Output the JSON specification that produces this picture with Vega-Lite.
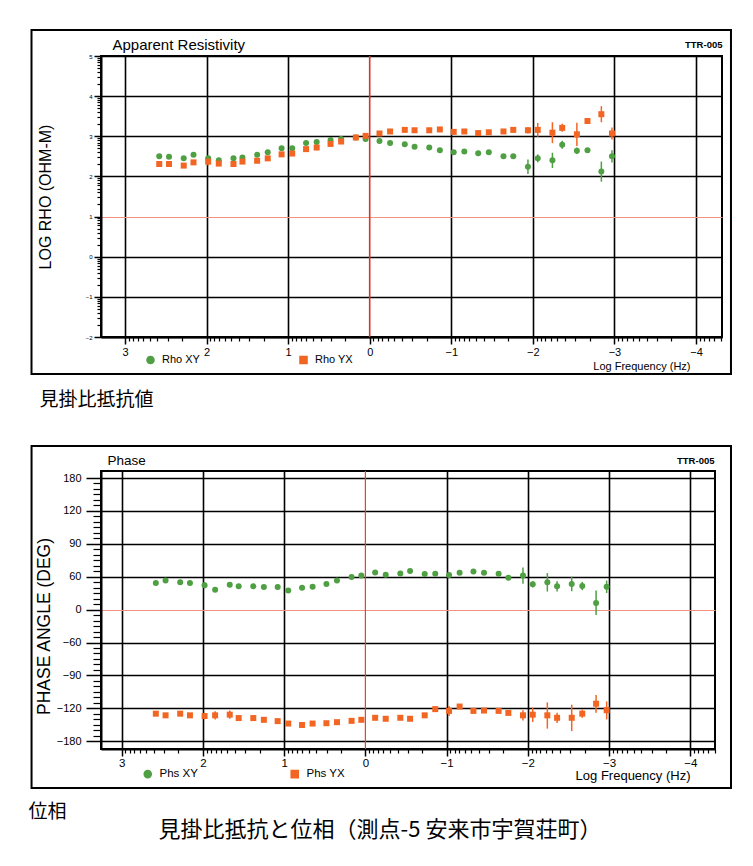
{
  "$schema": "https://vega.github.io/schema/vega-lite/v6.json",
  "background": "white",
  "padding": {"left": 27, "top": 27, "right": 5, "bottom": 5},
  "spacing": 34,
  "config": {
    "font": "Liberation Sans",
    "view": {"stroke": "black", "strokeWidth": 2},
    "axis": {"domainColor": "black", "tickColor": "black", "labelColor": "black", "titleColor": "black", "gridColor": "black", "titleFontWeight": "normal", "labelFont": "Liberation Sans", "titleFont": "Liberation Sans"},
    "legend": {"labelFont": "Liberation Sans", "labelColor": "black"}
  },
  "title": {"text": "見掛比抵抗と位相（測点-5 安来市宇賀荘町）", "orient": "bottom", "anchor": "middle", "font": "Noto Sans CJK JP", "fontSize": 22, "fontWeight": "normal", "color": "black", "offset": -2},
  "resolve": {"scale": {"color": "independent", "shape": "independent"}, "legend": {"color": "independent", "shape": "independent"}},
  "datasets": {
    "rho": [
      {"f": 2.58, "s": "Rho XY", "v": 2.50}, {"f": 2.46, "s": "Rho XY", "v": 2.49}, {"f": 2.28, "s": "Rho XY", "v": 2.45}, {"f": 2.16, "s": "Rho XY", "v": 2.54},
      {"f": 1.98, "s": "Rho XY", "v": 2.45}, {"f": 1.85, "s": "Rho XY", "v": 2.40}, {"f": 1.67, "s": "Rho XY", "v": 2.45}, {"f": 1.56, "s": "Rho XY", "v": 2.47},
      {"f": 1.38, "s": "Rho XY", "v": 2.54}, {"f": 1.25, "s": "Rho XY", "v": 2.60}, {"f": 1.08, "s": "Rho XY", "v": 2.70}, {"f": 0.95, "s": "Rho XY", "v": 2.70},
      {"f": 0.78, "s": "Rho XY", "v": 2.83}, {"f": 0.65, "s": "Rho XY", "v": 2.86}, {"f": 0.48, "s": "Rho XY", "v": 2.91}, {"f": 0.35, "s": "Rho XY", "v": 2.93},
      {"f": 0.17, "s": "Rho XY", "v": 2.97}, {"f": 0.05, "s": "Rho XY", "v": 2.93}, {"f": -0.12, "s": "Rho XY", "v": 2.88}, {"f": -0.25, "s": "Rho XY", "v": 2.83},
      {"f": -0.43, "s": "Rho XY", "v": 2.80}, {"f": -0.55, "s": "Rho XY", "v": 2.74}, {"f": -0.73, "s": "Rho XY", "v": 2.72}, {"f": -0.86, "s": "Rho XY", "v": 2.65},
      {"f": -1.03, "s": "Rho XY", "v": 2.60}, {"f": -1.16, "s": "Rho XY", "v": 2.62}, {"f": -1.33, "s": "Rho XY", "v": 2.58}, {"f": -1.46, "s": "Rho XY", "v": 2.60},
      {"f": -1.64, "s": "Rho XY", "v": 2.50}, {"f": -1.76, "s": "Rho XY", "v": 2.50},
      {"f": -1.94, "s": "Rho XY", "v": 2.24, "lo": 2.06, "hi": 2.42}, {"f": -2.06, "s": "Rho XY", "v": 2.45, "lo": 2.35, "hi": 2.55},
      {"f": -2.24, "s": "Rho XY", "v": 2.40, "lo": 2.21, "hi": 2.59}, {"f": -2.36, "s": "Rho XY", "v": 2.79, "lo": 2.69, "hi": 2.89},
      {"f": -2.54, "s": "Rho XY", "v": 2.64, "lo": 2.56, "hi": 2.72}, {"f": -2.67, "s": "Rho XY", "v": 2.65},
      {"f": -2.84, "s": "Rho XY", "v": 2.12, "lo": 1.87, "hi": 2.37}, {"f": -2.97, "s": "Rho XY", "v": 2.50, "lo": 2.35, "hi": 2.65},
      {"f": 2.58, "s": "Rho YX", "v": 2.31}, {"f": 2.46, "s": "Rho YX", "v": 2.31}, {"f": 2.28, "s": "Rho YX", "v": 2.27}, {"f": 2.16, "s": "Rho YX", "v": 2.35},
      {"f": 1.98, "s": "Rho YX", "v": 2.37, "lo": 2.27, "hi": 2.47}, {"f": 1.85, "s": "Rho YX", "v": 2.32}, {"f": 1.67, "s": "Rho YX", "v": 2.31}, {"f": 1.56, "s": "Rho YX", "v": 2.37},
      {"f": 1.38, "s": "Rho YX", "v": 2.39}, {"f": 1.25, "s": "Rho YX", "v": 2.45}, {"f": 1.08, "s": "Rho YX", "v": 2.55}, {"f": 0.95, "s": "Rho YX", "v": 2.57},
      {"f": 0.78, "s": "Rho YX", "v": 2.68}, {"f": 0.65, "s": "Rho YX", "v": 2.72}, {"f": 0.48, "s": "Rho YX", "v": 2.81}, {"f": 0.35, "s": "Rho YX", "v": 2.87},
      {"f": 0.17, "s": "Rho YX", "v": 2.97}, {"f": 0.05, "s": "Rho YX", "v": 3.01}, {"f": -0.12, "s": "Rho YX", "v": 3.07}, {"f": -0.25, "s": "Rho YX", "v": 3.12},
      {"f": -0.43, "s": "Rho YX", "v": 3.16}, {"f": -0.55, "s": "Rho YX", "v": 3.15}, {"f": -0.73, "s": "Rho YX", "v": 3.15}, {"f": -0.86, "s": "Rho YX", "v": 3.17},
      {"f": -1.03, "s": "Rho YX", "v": 3.11}, {"f": -1.16, "s": "Rho YX", "v": 3.12}, {"f": -1.33, "s": "Rho YX", "v": 3.08}, {"f": -1.46, "s": "Rho YX", "v": 3.10},
      {"f": -1.64, "s": "Rho YX", "v": 3.12, "lo": 3.07, "hi": 3.17}, {"f": -1.76, "s": "Rho YX", "v": 3.16},
      {"f": -1.94, "s": "Rho YX", "v": 3.15, "lo": 3.07, "hi": 3.23}, {"f": -2.06, "s": "Rho YX", "v": 3.16, "lo": 2.99, "hi": 3.33},
      {"f": -2.24, "s": "Rho YX", "v": 3.09, "lo": 2.83, "hi": 3.35}, {"f": -2.36, "s": "Rho YX", "v": 3.21, "lo": 3.11, "hi": 3.31},
      {"f": -2.54, "s": "Rho YX", "v": 3.05, "lo": 2.76, "hi": 3.34}, {"f": -2.67, "s": "Rho YX", "v": 3.38},
      {"f": -2.84, "s": "Rho YX", "v": 3.55, "lo": 3.35, "hi": 3.75}, {"f": -2.97, "s": "Rho YX", "v": 3.07, "lo": 2.92, "hi": 3.22}
    ],
    "phs": [
      {"f": 2.58, "s": "Phs XY", "v": 48.6}, {"f": 2.46, "s": "Phs XY", "v": 53.0}, {"f": 2.28, "s": "Phs XY", "v": 50.0}, {"f": 2.16, "s": "Phs XY", "v": 48.6},
      {"f": 1.98, "s": "Phs XY", "v": 44.3, "lo": 38.6, "hi": 50.0}, {"f": 1.85, "s": "Phs XY", "v": 36.0}, {"f": 1.67, "s": "Phs XY", "v": 45.4}, {"f": 1.56, "s": "Phs XY", "v": 42.4},
      {"f": 1.38, "s": "Phs XY", "v": 42.4}, {"f": 1.25, "s": "Phs XY", "v": 41.1}, {"f": 1.08, "s": "Phs XY", "v": 41.1}, {"f": 0.95, "s": "Phs XY", "v": 34.8},
      {"f": 0.78, "s": "Phs XY", "v": 39.7}, {"f": 0.65, "s": "Phs XY", "v": 41.6}, {"f": 0.48, "s": "Phs XY", "v": 46.7}, {"f": 0.35, "s": "Phs XY", "v": 53.0},
      {"f": 0.17, "s": "Phs XY", "v": 59.4}, {"f": 0.05, "s": "Phs XY", "v": 61.2}, {"f": -0.12, "s": "Phs XY", "v": 63.9}, {"f": -0.25, "s": "Phs XY", "v": 61.8},
      {"f": -0.43, "s": "Phs XY", "v": 63.0}, {"f": -0.55, "s": "Phs XY", "v": 65.1}, {"f": -0.73, "s": "Phs XY", "v": 62.4}, {"f": -0.86, "s": "Phs XY", "v": 62.7},
      {"f": -1.03, "s": "Phs XY", "v": 61.5}, {"f": -1.16, "s": "Phs XY", "v": 63.6}, {"f": -1.33, "s": "Phs XY", "v": 64.8}, {"f": -1.46, "s": "Phs XY", "v": 63.6},
      {"f": -1.64, "s": "Phs XY", "v": 62.7}, {"f": -1.76, "s": "Phs XY", "v": 58.1},
      {"f": -1.94, "s": "Phs XY", "v": 61.2, "lo": 47.3, "hi": 68.4}, {"f": -2.06, "s": "Phs XY", "v": 46.2, "lo": 40.5, "hi": 51.9},
      {"f": -2.24, "s": "Phs XY", "v": 50.0, "lo": 32.9, "hi": 63.3}, {"f": -2.36, "s": "Phs XY", "v": 42.4, "lo": 32.9, "hi": 51.9},
      {"f": -2.54, "s": "Phs XY", "v": 46.7, "lo": 33.5, "hi": 60.0}, {"f": -2.67, "s": "Phs XY", "v": 43.0, "lo": 35.4, "hi": 50.5},
      {"f": -2.84, "s": "Phs XY", "v": 12.1, "lo": -10.0, "hi": 34.8}, {"f": -2.97, "s": "Phs XY", "v": 41.6, "lo": 30.3, "hi": 53.0},
      {"f": 2.58, "s": "Phs YX", "v": -129.8}, {"f": 2.46, "s": "Phs YX", "v": -132.8}, {"f": 2.28, "s": "Phs YX", "v": -129.8}, {"f": 2.16, "s": "Phs YX", "v": -132.8},
      {"f": 1.98, "s": "Phs YX", "v": -134.1, "lo": -139.7, "hi": -128.4}, {"f": 1.85, "s": "Phs YX", "v": -132.8, "lo": -140.3, "hi": -125.3},
      {"f": 1.67, "s": "Phs YX", "v": -131.6, "lo": -139.1, "hi": -124.1}, {"f": 1.56, "s": "Phs YX", "v": -137.8},
      {"f": 1.38, "s": "Phs YX", "v": -137.8}, {"f": 1.25, "s": "Phs YX", "v": -141.0}, {"f": 1.08, "s": "Phs YX", "v": -143.4}, {"f": 0.95, "s": "Phs YX", "v": -147.8},
      {"f": 0.78, "s": "Phs YX", "v": -150.4}, {"f": 0.65, "s": "Phs YX", "v": -147.8}, {"f": 0.48, "s": "Phs YX", "v": -147.2}, {"f": 0.35, "s": "Phs YX", "v": -145.3},
      {"f": 0.17, "s": "Phs YX", "v": -142.9}, {"f": 0.05, "s": "Phs YX", "v": -141.0}, {"f": -0.12, "s": "Phs YX", "v": -137.3}, {"f": -0.25, "s": "Phs YX", "v": -139.1},
      {"f": -0.43, "s": "Phs YX", "v": -137.3}, {"f": -0.55, "s": "Phs YX", "v": -139.1}, {"f": -0.73, "s": "Phs YX", "v": -132.8}, {"f": -0.86, "s": "Phs YX", "v": -121.5},
      {"f": -1.03, "s": "Phs YX", "v": -124.7, "lo": -134.1, "hi": -117.8}, {"f": -1.16, "s": "Phs YX", "v": -118.4}, {"f": -1.33, "s": "Phs YX", "v": -124.7}, {"f": -1.46, "s": "Phs YX", "v": -124.1},
      {"f": -1.64, "s": "Phs YX", "v": -124.7}, {"f": -1.76, "s": "Phs YX", "v": -128.4},
      {"f": -1.94, "s": "Phs YX", "v": -132.8, "lo": -142.1, "hi": -123.4}, {"f": -2.06, "s": "Phs YX", "v": -131.6, "lo": -144.8, "hi": -119.3},
      {"f": -2.24, "s": "Phs YX", "v": -132.8, "lo": -157.1, "hi": -114.6}, {"f": -2.36, "s": "Phs YX", "v": -137.3, "lo": -146.6, "hi": -127.9},
      {"f": -2.54, "s": "Phs YX", "v": -137.3, "lo": -161.6, "hi": -116.7}, {"f": -2.67, "s": "Phs YX", "v": -129.8, "lo": -137.3, "hi": -122.3},
      {"f": -2.84, "s": "Phs YX", "v": -115.8, "lo": -127.9, "hi": -107.9}, {"f": -2.97, "s": "Phs YX", "v": -123.4, "lo": -140.3, "hi": -113.7}
    ],
    "one": [{"k": 1}]
  },
  "vconcat": [
    {
      "width": 621,
      "height": 281,
      "resolve": {"axis": {"x": "independent", "y": "independent"}},
      "layer": [
        {
          "data": {"name": "one"},
          "mark": {"type": "rect", "fill": null, "filled": false, "stroke": "black", "strokeWidth": 2, "clip": false},
          "encoding": {
            "x": {"datum": 4.146, "type": "quantitative", "axis": {"orient": "top", "labels": false, "ticks": false, "domain": false, "grid": false, "title": "Apparent Resistivity", "titleFontSize": 15, "titleX": 11, "titleY": -12, "titleAlign": "left", "titleBaseline": "middle"}},
            "x2": {"datum": -4.429},
            "y": {"datum": 5.648, "type": "quantitative", "axis": null},
            "y2": {"datum": -2.922}
          }
        },
        {
          "data": {"name": "one"},
          "mark": {"type": "rule", "color": "#d8322a", "strokeWidth": 1.6},
          "encoding": {
            "x": {"datum": 0, "type": "quantitative", "axis": {"orient": "top", "labels": false, "ticks": false, "domain": false, "grid": false, "title": "TTR-005", "titleFontSize": 9.5, "titleFontWeight": "bold", "titleX": 621, "titleY": -12, "titleAlign": "right", "titleBaseline": "middle"}}
          }
        },
        {
          "data": {"name": "rho"},
          "transform": [{"filter": "isValid(datum.lo)"}],
          "mark": {"type": "rule", "strokeWidth": 1.5},
          "encoding": {
            "x": {"field": "f", "type": "quantitative", "axis": {"orient": "bottom", "values": [-4.301, -4.222, -4.155, -4.097, -4.046, -3.699, -3.523, -3.398, -3.301, -3.222, -3.155, -3.097, -3.046, -2.699, -2.523, -2.398, -2.301, -2.222, -2.155, -2.097, -2.046, -1.699, -1.523, -1.398, -1.301, -1.222, -1.155, -1.097, -1.046, -0.699, -0.523, -0.398, -0.301, -0.222, -0.155, -0.097, -0.046, 0.301, 0.477, 0.602, 0.699, 0.778, 0.845, 0.903, 0.954, 1.301, 1.477, 1.602, 1.699, 1.778, 1.845, 1.903, 1.954, 2.301, 2.477, 2.602, 2.699, 2.778, 2.845, 2.903, 2.954], "labels": false, "domain": false, "grid": false, "tickSize": 4, "tickWidth": 1.2, "title": "見掛比抵抗値", "titleFont": "Noto Sans CJK JP", "titleFontSize": 19, "titleX": -62, "titleY": 62, "titleAlign": "left", "titleBaseline": "middle"}},
            "y": {"field": "lo", "type": "quantitative", "axis": {"orient": "left", "values": [-1.699, -1.523, -1.398, -1.301, -1.222, -1.155, -1.097, -1.046, -0.699, -0.523, -0.398, -0.301, -0.222, -0.155, -0.097, -0.046, 0.301, 0.477, 0.602, 0.699, 0.778, 0.845, 0.903, 0.954, 1.301, 1.477, 1.602, 1.699, 1.778, 1.845, 1.903, 1.954, 2.301, 2.477, 2.602, 2.699, 2.778, 2.845, 2.903, 2.954, 3.301, 3.477, 3.602, 3.699, 3.778, 3.845, 3.903, 3.954, 4.301, 4.477, 4.602, 4.699, 4.778, 4.845, 4.903, 4.954], "labels": false, "domain": false, "grid": false, "tickSize": 4, "tickWidth": 1.2, "title": null}},
            "y2": {"field": "hi"},
            "color": {"field": "s", "type": "nominal"}
          }
        },
        {
          "data": {"name": "rho"},
          "mark": {"type": "point", "filled": true, "opacity": 1, "size": 36},
          "encoding": {
            "x": {"field": "f", "type": "quantitative", "scale": {"domain": [-4.319, 3.294], "reverse": true, "nice": false, "zero": false},
              "axis": {"orient": "bottom", "values": [-4, -3, -2, -1, 0, 1, 2, 3], "grid": true, "gridWidth": 1.6, "gridOpacity": {"condition": {"test": "datum.value === 0", "value": 0}, "value": 1}, "tickSize": 7, "tickWidth": 1.5, "labelFontSize": 11, "labelPadding": 2, "labelFlush": false, "domainWidth": 2, "title": "Log Frequency (Hz)", "titleFontSize": 11, "titleX": 589, "titleY": 29, "titleAlign": "right", "titleBaseline": "middle"}},
            "y": {"field": "v", "type": "quantitative", "scale": {"domain": [-2, 5], "nice": false, "zero": false},
              "axis": {"orient": "left", "values": [-2, -1, 0, 1, 2, 3, 4, 5], "grid": true, "gridWidth": {"condition": {"test": "datum.value === 1", "value": 1.2}, "value": 1.6}, "gridColor": {"condition": {"test": "datum.value === 1", "value": "#f3937f"}, "value": "black"}, "tickSize": 7, "tickWidth": 1.5, "labelFontSize": 6, "labelPadding": 2, "domainWidth": 2, "title": "LOG RHO (OHM-M)", "titleFontSize": 16, "titlePadding": 32}},
            "color": {"field": "s", "type": "nominal", "scale": {"domain": ["Rho XY", "Rho YX"], "range": ["#4f9f43", "#f26522"]},
              "legend": {"orient": "none", "legendX": 44, "legendY": 298, "direction": "horizontal", "columns": 2, "columnPadding": 96, "title": null, "labelFontSize": 11, "symbolSize": 50, "labelOffset": 6}},
            "shape": {"field": "s", "type": "nominal", "scale": {"domain": ["Rho XY", "Rho YX"], "range": ["circle", "square"]},
              "legend": {"orient": "none", "legendX": 44, "legendY": 298, "direction": "horizontal", "columns": 2, "columnPadding": 96, "title": null, "labelFontSize": 11, "symbolSize": 50, "labelOffset": 6}}
          }
        }
      ]
    },
    {
      "width": 614,
      "height": 278,
      "resolve": {"axis": {"x": "independent", "y": "independent"}},
      "layer": [
        {
          "data": {"name": "one"},
          "mark": {"type": "rect", "fill": null, "filled": false, "stroke": "black", "strokeWidth": 2, "clip": false},
          "encoding": {
            "x": {"datum": 4.11, "type": "quantitative", "axis": {"orient": "top", "labels": false, "ticks": false, "domain": false, "grid": false, "title": "Phase", "titleFontSize": 13.5, "titleX": 6, "titleY": -11, "titleAlign": "left", "titleBaseline": "middle"}},
            "x2": {"datum": -4.501},
            "y": {"datum": 239.4, "type": "quantitative", "axis": null},
            "y2": {"datum": -270}
          }
        },
        {
          "data": {"name": "one"},
          "mark": {"type": "rule", "color": "#e8402e", "strokeWidth": 1.2},
          "encoding": {
            "x": {"datum": 0, "type": "quantitative", "axis": {"orient": "top", "labels": false, "ticks": false, "domain": false, "grid": false, "title": "TTR-005", "titleFontSize": 9.5, "titleFontWeight": "bold", "titleX": 613, "titleY": -11, "titleAlign": "right", "titleBaseline": "middle"}}
          }
        },
        {
          "data": {"name": "phs"},
          "transform": [{"filter": "isValid(datum.lo)"}],
          "mark": {"type": "rule", "strokeWidth": 1.5},
          "encoding": {
            "x": {"field": "f", "type": "quantitative", "axis": {"orient": "bottom", "values": [-4.301, -4.222, -4.155, -4.097, -4.046, -3.699, -3.523, -3.398, -3.301, -3.222, -3.155, -3.097, -3.046, -2.699, -2.523, -2.398, -2.301, -2.222, -2.155, -2.097, -2.046, -1.699, -1.523, -1.398, -1.301, -1.222, -1.155, -1.097, -1.046, -0.699, -0.523, -0.398, -0.301, -0.222, -0.155, -0.097, -0.046, 0.301, 0.477, 0.602, 0.699, 0.778, 0.845, 0.903, 0.954, 1.301, 1.477, 1.602, 1.699, 1.778, 1.845, 1.903, 1.954, 2.301, 2.477, 2.602, 2.699, 2.778, 2.845, 2.903, 2.954], "labels": false, "domain": false, "grid": false, "tickSize": 4, "tickWidth": 1.2, "title": "位相", "titleFont": "Noto Sans CJK JP", "titleFontSize": 19, "titleX": -73, "titleY": 62, "titleAlign": "left", "titleBaseline": "middle"}},
            "y": {"field": "lo", "type": "quantitative", "axis": {"orient": "left", "values": [-170, -160, -150, -140, -130, -115, -110, -105, -100, -95, -85, -80, -75, -70, -65, -50, -40, -30, -20, -10, 10, 20, 30, 40, 50, 65, 70, 75, 80, 85, 95, 100, 105, 110, 115, 130, 140, 150, 160, 170], "labels": false, "domain": false, "grid": false, "tickSize": 8, "tickWidth": 1.2, "title": null}},
            "y2": {"field": "hi"},
            "color": {"field": "s", "type": "nominal"}
          }
        },
        {
          "data": {"name": "phs"},
          "mark": {"type": "point", "filled": true, "opacity": 1, "size": 36},
          "encoding": {
            "x": {"field": "f", "type": "quantitative", "scale": {"domain": [-4.304, 3.255], "reverse": true, "nice": false, "zero": false},
              "axis": {"orient": "bottom", "values": [-4, -3, -2, -1, 0, 1, 2, 3], "grid": true, "gridWidth": 1.6, "gridOpacity": {"condition": {"test": "datum.value === 0", "value": 0}, "value": 1}, "tickSize": 7, "tickWidth": 1.5, "labelFontSize": 11.5, "labelPadding": 1, "labelFlush": false, "domainWidth": 2, "title": "Log Frequency (Hz)", "titleFontSize": 13, "titleX": 589, "titleY": 26, "titleAlign": "right", "titleBaseline": "middle"}},
            "y": {"field": "v", "type": "quantitative", "scale": {"domain": [-195, -180, -120, -90, -60, 0, 60, 90, 120, 180, 193], "range": [278, 270.2, 237.3, 204.4, 171.5, 138.6, 105.7, 72.8, 39.9, 7, 0], "nice": false, "zero": false},
              "axis": {"orient": "left", "values": [-180, -120, -90, -60, 0, 60, 90, 120, 180], "grid": true, "gridWidth": {"condition": {"test": "datum.value === 0", "value": 1.2}, "value": 1.6}, "gridColor": {"condition": {"test": "datum.value === 0", "value": "#f3937f"}, "value": "black"}, "tickSize": 15, "tickWidth": 1.5, "labelFontSize": 11, "labelPadding": 5, "domainWidth": 2, "title": "PHASE ANGLE (DEG)", "titleFontSize": 17.5, "titlePadding": 3, "titleY": 155}},
            "color": {"field": "s", "type": "nominal", "scale": {"domain": ["Phs XY", "Phs YX"], "range": ["#4f9f43", "#f26522"]},
              "legend": {"orient": "none", "legendX": 41, "legendY": 297, "direction": "horizontal", "columns": 2, "columnPadding": 90, "title": null, "labelFontSize": 11.5, "symbolSize": 50, "labelOffset": 6}},
            "shape": {"field": "s", "type": "nominal", "scale": {"domain": ["Phs XY", "Phs YX"], "range": ["circle", "square"]},
              "legend": {"orient": "none", "legendX": 41, "legendY": 297, "direction": "horizontal", "columns": 2, "columnPadding": 90, "title": null, "labelFontSize": 11.5, "symbolSize": 50, "labelOffset": 6}}
          }
        }
      ]
    }
  ]
}
